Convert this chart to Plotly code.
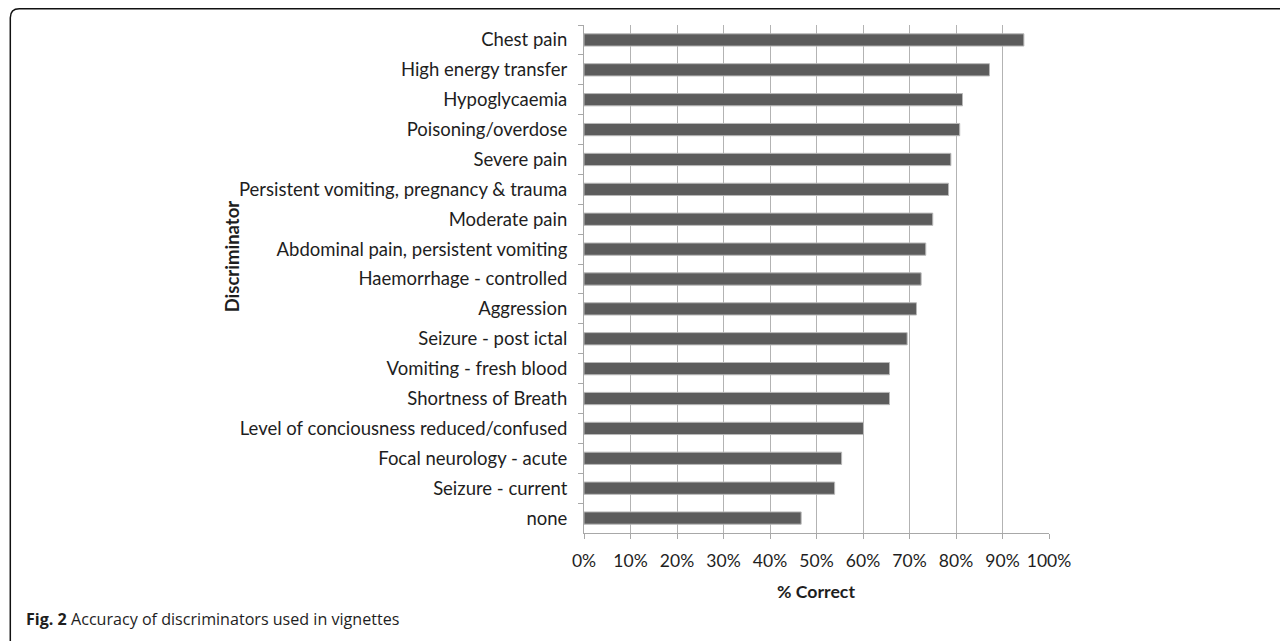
import plotly.graph_objects as go

categories = [
    "Chest pain",
    "High energy transfer",
    "Hypoglycaemia",
    "Poisoning/overdose",
    "Severe pain",
    "Persistent vomiting, pregnancy & trauma",
    "Moderate pain",
    "Abdominal pain, persistent vomiting",
    "Haemorrhage - controlled",
    "Aggression",
    "Seizure - post ictal",
    "Vomiting - fresh blood",
    "Shortness of Breath",
    "Level of conciousness reduced/confused",
    "Focal neurology - acute",
    "Seizure - current",
    "none",
]
pct_correct = [0.946, 0.872, 0.814, 0.808, 0.789, 0.784, 0.750, 0.735, 0.725,
               0.715, 0.695, 0.657, 0.657, 0.601, 0.554, 0.539, 0.467]
x_ticks = [0, 0.1, 0.2, 0.3, 0.4, 0.5, 0.6, 0.7, 0.8, 0.9, 1.0]
x_tick_labels = ["0%", "10%", "20%", "30%", "40%", "50%", "60%", "70%", "80%", "90%", "100%"]

# page has an 8px body margin; figure is sized to fit the 1288x641 window
OFF = 8
W, H = 1280, 633
# plot area in screen pixels
SX0, SX1, SY0, SY1 = 583.7, 1048.7, 25, 533
L = SX0 - OFF
T = SY0 - OFF
PW = SX1 - SX0
PH = SY1 - SY0
R = W - L - PW
B = H - T - PH


def px(sx):
    return (sx - OFF - L) / PW


def py(sy):
    return (H - B - (sy - OFF)) / PH


TXT = "#1e1e1e"
fig = go.Figure(go.Bar(
    x=pct_correct, y=categories, orientation="h",
    marker=dict(color="#5c5c5c", line=dict(color="#b8b8b8", width=1)),
    width=0.41,
))

fig.update_layout(
    width=W, height=H,
    margin=dict(l=L, r=R, t=T, b=B),
    paper_bgcolor="white", plot_bgcolor="white",
    font=dict(family="Lato, Open Sans, sans-serif", size=18.5, color=TXT),
    showlegend=False,
)
fig.update_xaxes(
    range=[0, 1.0], tickvals=x_ticks, ticktext=x_tick_labels,
    showgrid=True, gridcolor="#b3b3b3", gridwidth=1,
    showline=True, linecolor="#a8a8a8", linewidth=1,
    ticks="outside", ticklen=5, tickcolor="#a8a8a8",
    tickfont=dict(size=17.5, color=TXT), ticklabelstandoff=7,
    zeroline=False, fixedrange=True, automargin=False,
)
fig.update_yaxes(
    autorange="reversed", type="category",
    showgrid=False, showline=True, linecolor="#a8a8a8", linewidth=1,
    ticks="outside", ticklen=5, tickcolor="#a8a8a8", tickson="boundaries",
    tickfont=dict(size=18.5, color=TXT), ticklabelstandoff=12,
    fixedrange=True, automargin=False,
)

# axis titles
fig.add_annotation(text="<b>% Correct</b>", xref="paper", yref="paper",
                   x=px(816), y=py(591.5), yanchor="middle", xanchor="center",
                   showarrow=False, font=dict(size=17.7, color=TXT))
fig.add_annotation(text="<b>Discriminator</b>", xref="paper", yref="paper",
                   x=px(232), y=py(256), textangle=-90,
                   xanchor="center", yanchor="middle",
                   showarrow=False, font=dict(size=18.5, color=TXT))
# caption
fig.add_annotation(text="<b>Fig. 2</b> Accuracy of discriminators used in vignettes",
                   xref="paper", yref="paper",
                   x=px(24), y=py(619),
                   xanchor="left", yanchor="middle", showarrow=False,
                   font=dict(family="Open Sans, sans-serif", size=16.1, color=TXT))

# rounded frame
x0, y0, x1, y1, r = 10, 8.8, 1300, 660, 9
path = (f"M {px(x0)},{py(y0 + r)} Q {px(x0)},{py(y0)} {px(x0 + r)},{py(y0)} "
        f"L {px(x1)},{py(y0)} L {px(x1)},{py(y1)} L {px(x0)},{py(y1)} Z")
fig.add_shape(type="path", path=path, xref="paper", yref="paper",
              line=dict(color="#111111", width=1.5), layer="below")

fig.write_html("out.html")
